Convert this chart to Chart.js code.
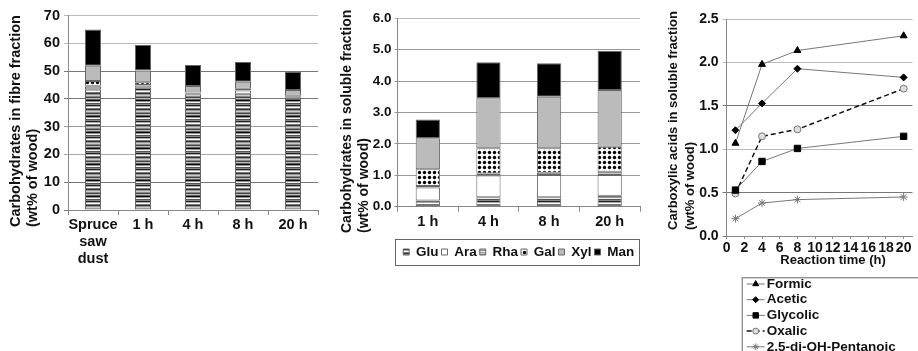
<!DOCTYPE html>
<html>
<head>
<meta charset="utf-8">
<script src="https://cdn.jsdelivr.net/npm/chart.js@4.4.0/dist/chart.umd.min.js"></script>
<style>
  html, body { margin: 0; padding: 0; background: #fff; width: 918px; height: 351px; overflow: hidden; }
  .box { position: absolute; top: 0; height: 351px; }
</style>
</head>
<body>
<div class="box" style="left:0;width:322px"><canvas id="chartFibre"></canvas></div>
<div class="box" style="left:322px;width:324px"><canvas id="chartSoluble"></canvas></div>
<div class="box" style="left:646px;width:272px"><canvas id="chartAcids"></canvas></div>
<script>
// ── data ─────────────────────────────────────────────────
const fibreLabels = [['Spruce', 'saw', 'dust'], '1 h', '4 h', '8 h', '20 h'];
const fibreGlu = [43.5, 44.0, 41.7, 41.8, 40.4];
const fibreAra = [0.9, 0.8, 0.3, 1.2, 0.4];
const fibreRha = [0.3, 0.2, 0.2, 0.2, 0.2];
const fibreGal = [1.7, 1.0, 0.1, 0.4, 0.1];
const fibreXyl = [5.5, 4.2, 2.3, 2.6, 2.1];
const fibreMan = [13.1, 9.2, 7.6, 7.1, 6.6];

const solLabels = ['1 h', '4 h', '8 h', '20 h'];
const solGlu = [0.20, 0.30, 0.30, 0.35];
const solAra = [0.41, 0.69, 0.71, 0.66];
const solRha = [0.05, 0.07, 0.07, 0.10];
const solGal = [0.53, 0.80, 0.78, 0.80];
const solXyl = [0.99, 1.59, 1.64, 1.81];
const solMan = [0.60, 1.15, 1.07, 1.25];

const timeH = [1, 4, 8, 20];
const timeTicks = [0, 2, 4, 6, 8, 10, 12, 14, 16, 18, 20];
const formic = [1.07, 1.98, 2.14, 2.31];
const acetic = [1.22, 1.53, 1.93, 1.83];
const glycolic = [0.53, 0.86, 1.01, 1.15];
const oxalic = [0.49, 1.15, 1.23, 1.70];
const pentanoic = [0.20, 0.38, 0.42, 0.45];

const FONT = '"Liberation Sans", Arial, sans-serif';
Chart.defaults.font.family = FONT;
Chart.defaults.font.weight = 'bold';
Chart.defaults.color = '#111';
Chart.defaults.animation = false;

// ── fill patterns ────────────────────────────────────────
function stripes(rows) {
  const c = document.createElement('canvas');
  c.width = 4; c.height = rows.length;
  const g = c.getContext('2d');
  rows.forEach((col, i) => { g.fillStyle = col; g.fillRect(0, i, 4, 1); });
  return g.createPattern(c, 'repeat');
}
function dots() {
  const c = document.createElement('canvas');
  c.width = 5; c.height = 5;
  const g = c.getContext('2d');
  g.fillStyle = '#fff'; g.fillRect(0, 0, 5, 5);
  g.fillStyle = '#000'; g.beginPath(); g.arc(2.5, 2.5, 1.7, 0, Math.PI * 2); g.fill();
  return g.createPattern(c, 'repeat');
}
const gluFill = stripes(['#888','#444','#bbb','#666','#000','#999','#eee','#555','#888','#222','#aaa','#fff','#777','#333','#999','#ccc']);
const rhaFill = stripes(['#999','#ccc','#888','#eee']);
const galFill = dots();

function barSets(glu, ara, rha, gal, xyl, man) {
  return [
    { label: 'Glu', data: glu, backgroundColor: gluFill },
    { label: 'Ara', data: ara, backgroundColor: '#fff' },
    { label: 'Rha', data: rha, backgroundColor: rhaFill },
    { label: 'Gal', data: gal, backgroundColor: galFill },
    { label: 'Xyl', data: xyl, backgroundColor: '#bbb' },
    { label: 'Man', data: man, backgroundColor: '#000' }
  ].map(d => Object.assign(d, { borderColor: '#666', borderWidth: 1, borderSkipped: false }));
}

// ── small plugins: rotated axis titles, legend frames ─────
const axisTitles = {
  id: 'axisTitles',
  afterDraw(chart, args, o) {
    const ctx = chart.ctx;
    (o.items || []).forEach(t => {
      ctx.save();
      ctx.translate(t.x, t.y);
      if (t.rotate) ctx.rotate(-Math.PI / 2);
      ctx.font = `bold ${t.size}px ${FONT}`;
      ctx.fillStyle = '#111';
      ctx.textAlign = t.align || 'center';
      ctx.textBaseline = 'middle';
      t.lines.forEach((ln, i) => ctx.fillText(ln, 0, i * t.lh));
      ctx.restore();
    });
  }
};

const legendFrame = {
  id: 'legendFrame',
  afterDraw(chart, args, o) {
    const lg = chart.legend;
    if (!lg || !lg.legendHitBoxes || !lg.legendHitBoxes.length) return;
    const hb = lg.legendHitBoxes;
    const a = hb[0], b = hb[hb.length - 1];
    const ctx = chart.ctx;
    ctx.save();
    ctx.strokeStyle = '#666'; ctx.lineWidth = 1;
    ctx.strokeRect(Math.round(a.left - o.padL) + 0.5, Math.round(a.top - o.padV) + 0.5,
      Math.round(b.left + b.width - a.left + o.padL + o.padR), Math.round(a.height + 2 * o.padV));
    ctx.restore();
  }
};

const lineLegend = {
  id: 'lineLegend',
  afterDraw(chart, args, o) {
    const ctx = chart.ctx;
    ctx.save();
    ctx.strokeStyle = '#666'; ctx.lineWidth = 1;
    ctx.strokeRect(o.x + 0.5, o.y + 0.5, o.w, o.h);
    chart.data.datasets.forEach((ds, i) => {
      const y = o.y + o.first + i * o.step;
      const x0 = o.x + 5;
      ctx.beginPath();
      ctx.setLineDash(ds.borderDash || []);
      ctx.strokeStyle = ds.borderColor; ctx.lineWidth = ds.borderWidth;
      ctx.moveTo(x0, y); ctx.lineTo(x0 + o.len, y); ctx.stroke();
      ctx.setLineDash([]);
      ctx.fillStyle = ds.pointBackgroundColor; ctx.strokeStyle = ds.pointBorderColor;
      ctx.lineWidth = 1;
      Chart.helpers.drawPoint(ctx, { pointStyle: ds.pointStyle, radius: ds.pointRadius * 0.85, borderWidth: 1, rotation: 0 }, x0 + o.len / 2, y);
      ctx.fillStyle = '#111';
      ctx.font = `bold ${o.size}px ${FONT}`;
      ctx.textAlign = 'left'; ctx.textBaseline = 'middle';
      ctx.fillText(ds.label, x0 + o.len + 2, y);
    });
    ctx.restore();
  }
};

const fibreGrid = { 0: '#777', 10: '#777', 20: '#aaa', 30: '#999', 40: '#777', 50: '#777', 60: '#bbb', 70: '#bbb' };
const acidGrid = { 0: '#777', 0.5: '#777', 1: '#bbb', 1.5: '#777', 2: '#bbb', 2.5: '#bbb' };

// ── 1. fibre fraction — stacked bars ─────────────────────
new Chart(document.getElementById('chartFibre'), {
  type: 'bar',
  data: { labels: fibreLabels, datasets: barSets(fibreGlu, fibreAra, fibreRha, fibreGal, fibreXyl, fibreMan) },
  options: {
    responsive: true, maintainAspectRatio: false,
    layout: { padding: { top: 15.5, right: 4, left: 0, bottom: 0 } },
    datasets: { bar: { categoryPercentage: 1, barPercentage: 0.32 } },
    plugins: {
      legend: { display: false }, tooltip: { enabled: false },
      axisTitles: { items: [{ lines: ['Carbohydrates in fibre fraction', '(wt% of wood)'], x: 16, y: 227, rotate: true, align: 'left', size: 14.5, lh: 17 }] }
    },
    scales: {
      x: {
        stacked: true,
        grid: { drawOnChartArea: false, tickLength: 5, color: '#888' },
        border: { color: '#888' },
        ticks: { font: { size: 14.5, lineHeight: 1.15 }, padding: 2, maxRotation: 0, autoSkip: false },
        afterFit: s => { s.height = 141; }
      },
      y: {
        stacked: true, min: 0, max: 70,
        ticks: { stepSize: 10, font: { size: 14.5 }, padding: 4 },
        grid: { color: c => fibreGrid[c.tick.value] || '#999', tickLength: 4 },
        border: { color: '#888' },
        afterFit: s => { s.width = 68; }
      }
    }
  },
  plugins: [axisTitles]
});

// ── 2. soluble fraction — stacked bars with legend ───────
new Chart(document.getElementById('chartSoluble'), {
  type: 'bar',
  data: { labels: solLabels, datasets: barSets(solGlu, solAra, solRha, solGal, solXyl, solMan) },
  options: {
    responsive: true, maintainAspectRatio: false,
    layout: { padding: { top: 18.3, right: 6, left: 0, bottom: 82.25 } },
    datasets: { bar: { categoryPercentage: 1, barPercentage: 0.4 } },
    plugins: {
      tooltip: { enabled: false },
      legend: {
        position: 'bottom', fullSize: false,
        labels: { boxWidth: 6, boxHeight: 6, padding: 3, font: { size: 13.5 }, color: '#111' }
      },
      legendFrame: { padL: 8, padR: 5, padV: 6 },
      axisTitles: { items: [{ lines: ['Carbohydrates in soluble fraction', '(wt% of wood)'], x: 346.7 - 322, y: 233, rotate: true, align: 'left', size: 14, lh: 17 }] }
    },
    scales: {
      x: {
        stacked: true,
        grid: { drawOnChartArea: false, tickLength: 5, color: '#888' },
        border: { color: '#888' },
        ticks: { font: { size: 14.5 }, padding: 2, maxRotation: 0, autoSkip: false },
        afterFit: s => { s.height = 35.55; }
      },
      y: {
        stacked: true, min: 0, max: 6,
        ticks: { stepSize: 1, font: { size: 13.5 }, padding: 3, callback: v => v.toFixed(1) },
        grid: { color: c => c.tick.value === 0 ? '#777' : (c.tick.value === 6 ? '#bbb' : '#999'), tickLength: 3 },
        border: { color: '#888' },
        afterFit: s => { s.width = 75.5; }
      }
    }
  },
  plugins: [axisTitles, legendFrame]
});

// ── 3. carboxylic acids — lines over reaction time ───────
function acidSet(label, data, style, radius, extra) {
  return Object.assign({
    label, data: data.map((v, i) => ({ x: timeH[i], y: v })),
    borderColor: '#777', borderWidth: 1,
    pointStyle: style, pointRadius: radius,
    pointBackgroundColor: '#000', pointBorderColor: '#000', pointBorderWidth: 1
  }, extra || {});
}

new Chart(document.getElementById('chartAcids'), {
  type: 'line',
  data: {
    datasets: [
      acidSet('Formic', formic, 'triangle', 4),
      acidSet('Acetic', acetic, 'rectRot', 3.5),
      acidSet('Glycolic', glycolic, 'rect', 4.5),
      acidSet('Oxalic', oxalic, 'circle', 3.5, { borderColor: '#111', borderWidth: 1.5, borderDash: [5, 3], pointBackgroundColor: '#ddd', pointBorderColor: '#777' }),
      acidSet('2,5-di-OH-Pentanoic', pentanoic, 'star', 4, { pointBackgroundColor: '#777', pointBorderColor: '#777' })
    ]
  },
  options: {
    responsive: true, maintainAspectRatio: false,
    layout: { padding: { top: 19.3, right: 1, left: 0, bottom: 0 } },
    plugins: {
      legend: { display: false }, tooltip: { enabled: false },
      axisTitles: {
        items: [
          { lines: ['Carboxylic acids in soluble fraction', '(wt% of wood)'], x: 673.3 - 646, y: 230, rotate: true, align: 'left', size: 13, lh: 17 },
          { lines: ['Reaction time (h)'], x: 833 - 646, y: 260, size: 13, lh: 15 }
        ]
      },
      lineLegend: { x: 741.7 - 646, y: 277.3, w: 200, h: 100, first: 6.7, step: 15.7, len: 18, size: 13.5 }
    },
    scales: {
      x: {
        type: 'linear', min: 0, max: 21,
        afterBuildTicks: s => { s.ticks = timeTicks.map(v => ({ value: v })); },
        ticks: { font: { size: 14 }, padding: 1, maxRotation: 0, minRotation: 0, autoSkip: false },
        grid: { drawOnChartArea: false, tickLength: 3, color: '#888' },
        border: { color: '#888' },
        afterFit: s => { s.height = 115; }
      },
      y: {
        min: 0, max: 2.5,
        ticks: { stepSize: 0.5, font: { size: 14 }, padding: 4, callback: v => v.toFixed(1) },
        grid: { color: c => acidGrid[c.tick.value] || '#999', tickLength: 4 },
        border: { color: '#888' },
        afterFit: s => { s.width = 80.6; }
      }
    }
  },
  plugins: [axisTitles, lineLegend]
});
</script>
</body>
</html>
